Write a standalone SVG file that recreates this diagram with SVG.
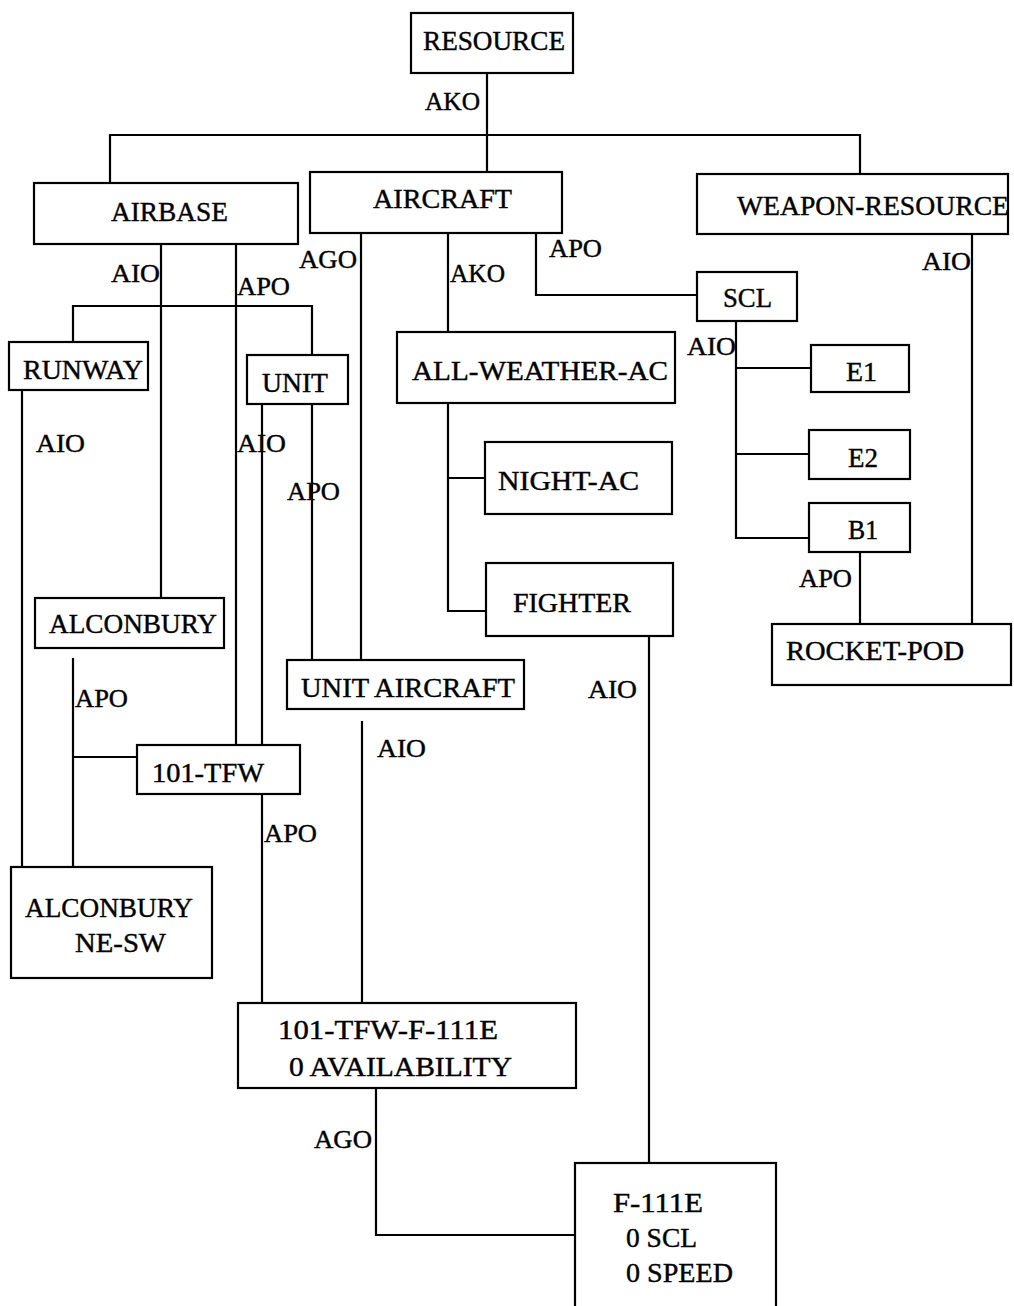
<svg xmlns="http://www.w3.org/2000/svg" width="1014" height="1306" viewBox="0 0 1014 1306">
<style>
.box{fill:#fff;stroke:#000;stroke-width:2.2}
.t{font-family:"Liberation Serif","Times New Roman",serif;font-size:27px;fill:#000;stroke:#000;stroke-width:0.4}
.l{font-family:"Liberation Serif","Times New Roman",serif;font-size:25px;fill:#000;stroke:#000;stroke-width:0.4}
.c{fill:none;stroke:#000;stroke-width:2.2}
</style>
<rect width="1014" height="1306" fill="#fff"/>
<g id="connectors">
<path class="c" d="M487,73V172M110,183V135H860V173"/>
<path class="c" d="M161,244V598M236,244V745"/>
<path class="c" d="M73,342V306H312V355"/>
<path class="c" d="M361,233V660M448,233V332"/>
<path class="c" d="M536,233V295H697"/>
<path class="c" d="M972,234V624"/>
<path class="c" d="M736,321V538H809M736,368H811M736,454H809"/>
<path class="c" d="M860,552V624"/>
<path class="c" d="M22,390V867"/>
<path class="c" d="M262,404V745M312,404V660"/>
<path class="c" d="M448,403V611H486M448,478H485"/>
<path class="c" d="M73,658V867M73,757H137"/>
<path class="c" d="M649,636V1163"/>
<path class="c" d="M362,721V1003M262,794V1003"/>
<path class="c" d="M376,1088V1235H575"/>
<g id="labels">
<text class="l" x="425" y="110" textLength="55" lengthAdjust="spacingAndGlyphs">AKO</text>
<text class="l" x="111" y="282" textLength="49" lengthAdjust="spacingAndGlyphs">AIO</text>
<text class="l" x="237" y="295" textLength="53" lengthAdjust="spacingAndGlyphs">APO</text>
<text class="l" x="299" y="268" textLength="58" lengthAdjust="spacingAndGlyphs">AGO</text>
<text class="l" x="450" y="282" textLength="55" lengthAdjust="spacingAndGlyphs">AKO</text>
<text class="l" x="549" y="257" textLength="53" lengthAdjust="spacingAndGlyphs">APO</text>
<text class="l" x="922" y="270" textLength="49" lengthAdjust="spacingAndGlyphs">AIO</text>
<text class="l" x="687" y="355" textLength="49" lengthAdjust="spacingAndGlyphs">AIO</text>
<text class="l" x="36" y="452" textLength="49" lengthAdjust="spacingAndGlyphs">AIO</text>
<text class="l" x="237" y="452" textLength="49" lengthAdjust="spacingAndGlyphs">AIO</text>
<text class="l" x="287" y="500" textLength="53" lengthAdjust="spacingAndGlyphs">APO</text>
<text class="l" x="75" y="707" textLength="53" lengthAdjust="spacingAndGlyphs">APO</text>
<text class="l" x="377" y="757" textLength="49" lengthAdjust="spacingAndGlyphs">AIO</text>
<text class="l" x="264" y="842" textLength="53" lengthAdjust="spacingAndGlyphs">APO</text>
<text class="l" x="588" y="698" textLength="49" lengthAdjust="spacingAndGlyphs">AIO</text>
<text class="l" x="799" y="587" textLength="53" lengthAdjust="spacingAndGlyphs">APO</text>
<text class="l" x="314" y="1148" textLength="58" lengthAdjust="spacingAndGlyphs">AGO</text>
</g>
</g>
<g id="resource"><rect class="box" x="411" y="13" width="162" height="60"/><text class="t" x="423" y="50" textLength="142" lengthAdjust="spacingAndGlyphs">RESOURCE</text></g>
<g id="airbase"><rect class="box" x="34" y="183" width="264" height="61"/><text class="t" x="111" y="221" textLength="117" lengthAdjust="spacingAndGlyphs">AIRBASE</text></g>
<g id="aircraft"><rect class="box" x="310" y="172" width="252" height="61"/><text class="t" x="373" y="208" textLength="139" lengthAdjust="spacingAndGlyphs">AIRCRAFT</text></g>
<g id="weapon-resource"><rect class="box" x="697" y="174" width="311" height="60"/><text class="t" x="737" y="215" textLength="272" lengthAdjust="spacingAndGlyphs">WEAPON-RESOURCE</text></g>
<g id="scl"><rect class="box" x="697" y="272" width="100" height="49"/><text class="t" x="723" y="307" textLength="49" lengthAdjust="spacingAndGlyphs">SCL</text></g>
<g id="runway"><rect class="box" x="9" y="342" width="139" height="48"/><text class="t" x="23" y="379" textLength="120" lengthAdjust="spacingAndGlyphs">RUNWAY</text></g>
<g id="unit"><rect class="box" x="247" y="355" width="101" height="49"/><text class="t" x="262" y="392" textLength="66" lengthAdjust="spacingAndGlyphs">UNIT</text></g>
<g id="all-weather-ac"><rect class="box" x="397" y="332" width="278" height="71"/><text class="t" x="412" y="380" textLength="256" lengthAdjust="spacingAndGlyphs">ALL-WEATHER-AC</text></g>
<g id="e1"><rect class="box" x="811" y="345" width="98" height="47"/><text class="t" x="846" y="381" textLength="31" lengthAdjust="spacingAndGlyphs">E1</text></g>
<g id="e2"><rect class="box" x="809" y="430" width="101" height="49"/><text class="t" x="848" y="467" textLength="30" lengthAdjust="spacingAndGlyphs">E2</text></g>
<g id="b1"><rect class="box" x="809" y="503" width="101" height="49"/><text class="t" x="848" y="539" textLength="30" lengthAdjust="spacingAndGlyphs">B1</text></g>
<g id="night-ac"><rect class="box" x="485" y="442" width="187" height="72"/><text class="t" x="498" y="490" textLength="141" lengthAdjust="spacingAndGlyphs">NIGHT-AC</text></g>
<g id="fighter"><rect class="box" x="486" y="563" width="187" height="73"/><text class="t" x="513" y="612" textLength="118" lengthAdjust="spacingAndGlyphs">FIGHTER</text></g>
<g id="alconbury"><rect class="box" x="35" y="598" width="189" height="50"/><text class="t" x="49" y="633" textLength="168" lengthAdjust="spacingAndGlyphs">ALCONBURY</text></g>
<g id="rocket-pod"><rect class="box" x="772" y="624" width="239" height="61"/><text class="t" x="786" y="660" textLength="178" lengthAdjust="spacingAndGlyphs">ROCKET-POD</text></g>
<g id="unit-aircraft"><rect class="box" x="287" y="660" width="237" height="49"/><text class="t" x="301" y="697" textLength="214" lengthAdjust="spacingAndGlyphs">UNIT AIRCRAFT</text></g>
<g id="tfw101"><rect class="box" x="137" y="745" width="163" height="49"/><text class="t" x="152" y="782" textLength="112" lengthAdjust="spacingAndGlyphs">101-TFW</text></g>
<g id="alconbury-ne-sw"><rect class="box" x="11" y="867" width="201" height="111"/><text class="t" x="25" y="917" textLength="168" lengthAdjust="spacingAndGlyphs">ALCONBURY</text><text class="t" x="75" y="952" textLength="91" lengthAdjust="spacingAndGlyphs">NE-SW</text></g>
<g id="tfw101-f111e"><rect class="box" x="238" y="1003" width="338" height="85"/><text class="t" x="278" y="1039" textLength="220" lengthAdjust="spacingAndGlyphs">101-TFW-F-111E</text><text class="t" x="289" y="1076" textLength="223" lengthAdjust="spacingAndGlyphs">0 AVAILABILITY</text></g>
<g id="f111e"><rect class="box" x="575" y="1163" width="201" height="160"/><text class="t" x="613" y="1212" textLength="90" lengthAdjust="spacingAndGlyphs">F-111E</text><text class="t" x="626" y="1247" textLength="71" lengthAdjust="spacingAndGlyphs">0 SCL</text><text class="t" x="626" y="1282" textLength="107" lengthAdjust="spacingAndGlyphs">0 SPEED</text></g>
</svg>
